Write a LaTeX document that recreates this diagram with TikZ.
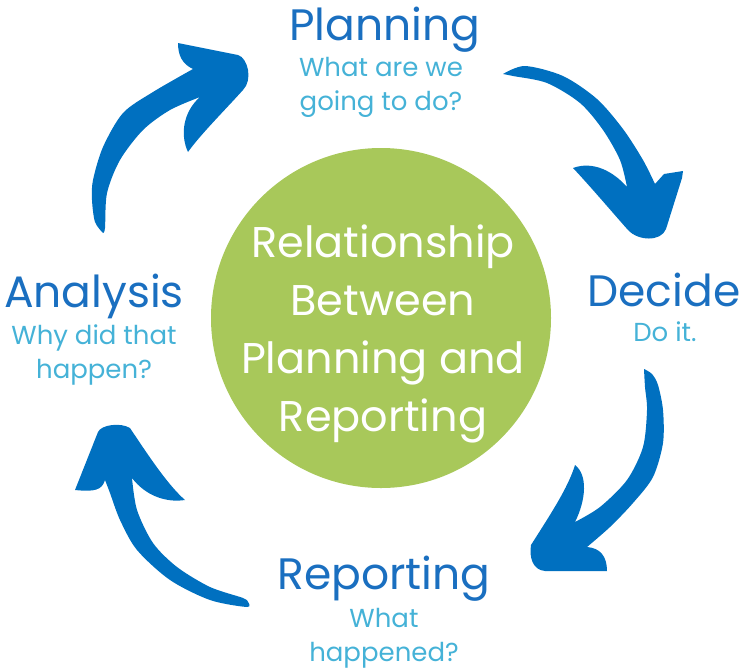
\documentclass[tikz,border=0pt]{standalone}
\usepackage{fontspec}
\setmainfont{Poppins}
\definecolor{arrowblue}{HTML}{0070C0}
\definecolor{titleblue}{HTML}{1A6FC0}
\definecolor{noteblue}{HTML}{45B2D7}
\definecolor{hubgreen}{HTML}{A8C85A}
\tikzset{
  steptitle/.style={anchor=base, text=titleblue, inner sep=0pt, font=\fontsize{44}{50}\selectfont},
  stepnote/.style={anchor=base, text=noteblue, align=center, inner sep=0pt, font=\fontsize{26}{34}\selectfont},
  bigarrow/.style={fill=arrowblue}
}
\begin{document}
\begin{tikzpicture}[x=1pt, y=-1pt]
\useasboundingbox (0,0) rectangle (741,670);

\fill[hubgreen] (381,318) circle (170pt);
\node(C) at (383,334)[text=white, align=center, font=\fontsize{43}{58}\selectfont]{Relationship\\Between\\Planning and\\Reporting};

\node(P) at (385,40)[steptitle]{Planning};
\node(Pq) at (381,110)[stepnote]{What are we\\going to do?};
\node(D) at (664,306)[steptitle]{Decide};
\node(Dq) at (665,341)[stepnote]{Do it.};
\node(A) at (94,307)[steptitle]{Analysis};
\node(Aq) at (94,378)[stepnote]{Why did that\\happen?};
\node(R) at (384,589)[steptitle]{Reporting};
\node(Rq) at (384,661)[stepnote]{What\\happened?};

\fill[bigarrow] plot[smooth] coordinates {(503,74) (525,66) (563,76) (597,99) (623,129) (643,160) (655,184)}
  -- (664,174) -- (683,171) -- (682,178)
  -- (666,229) .. controls (661,242) and (638,241) .. (628,230)
  .. controls (612,212) and (590,186) .. (573,168)
  .. controls (592,161) and (612,170) .. (627,187)
  -- plot[smooth] coordinates {(627,187) (620,160) (603,130) (580,103) (547,83) (513,76) (503,74)}
  -- cycle;

\fill[bigarrow] plot[smooth] coordinates {(644,369) (652,374) (658,385) (663,410) (663,443) (653,477) (633,503) (610,527) (587,547)}
  .. controls (600,548) and (607,556) .. (607,571)
  -- (545,571) .. controls (533,570) and (529,558) .. (531,545)
  .. controls (550,515) and (568,488) .. (575,465)
  .. controls (588,475) and (586,500) .. (575,522)
  -- plot[smooth] coordinates {(575,522) (600,507) (627,480) (643,447) (647,410) (645,387) (644,369)}
  -- cycle;

\fill[bigarrow] plot[smooth] coordinates {(248,602) (247,607) (210,600) (170,580) (137,550) (120,520) (110,493) (105,480)}
  .. controls (102,490) and (95,492) .. (75,490)
  -- (98,432) .. controls (101,425) and (120,422) .. (130,428)
  .. controls (150,458) and (168,485) .. (185,500)
  .. controls (165,503) and (145,495) .. (132,478)
  -- plot[smooth] coordinates {(132,478) (137,510) (153,543) (177,567) (210,587) (243,598) (248,602)}
  -- cycle;

\fill[bigarrow] plot[smooth] coordinates {(103,233) (95,222) (92,200) (93,180) (103,147) (123,113) (153,92) (193,69)}
  .. controls (182,64) and (178,55) .. (178,43)
  -- (238,55) .. controls (248,58) and (253,80) .. (243,90)
  .. controls (225,110) and (200,135) .. (188,152)
  .. controls (180,135) and (183,112) .. (200,97)
  -- plot[smooth] coordinates {(200,97) (170,110) (143,130) (120,160) (107,193) (105,228) (103,233)}
  -- cycle;

\end{tikzpicture}
\end{document}
